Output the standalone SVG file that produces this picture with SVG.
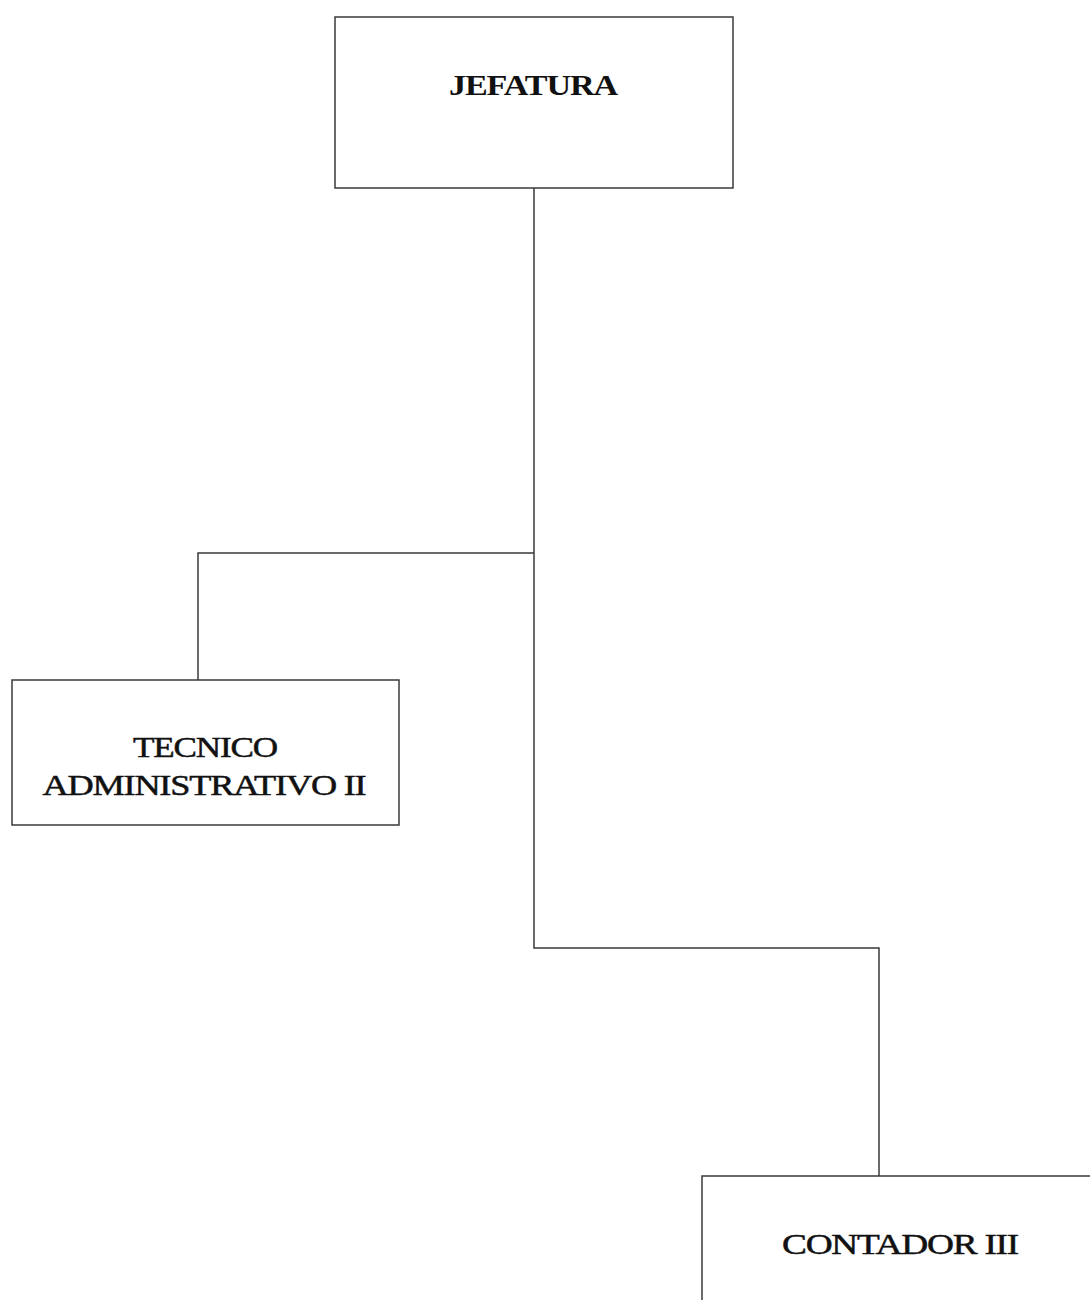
<svg xmlns="http://www.w3.org/2000/svg" width="1090" height="1300" viewBox="0 0 1090 1300">
  <style>
    .box { fill: #ffffff; stroke: #3a3a3a; stroke-width: 1.5; }
    .wire { fill: none; stroke: #3a3a3a; stroke-width: 1.5; }
    .label { font-family: "Liberation Serif", "Times New Roman", serif; font-size: 30px; fill: #111111; text-anchor: middle; stroke: #111111; stroke-width: 0.5; letter-spacing: -1px; }
    .strong { font-weight: bold; stroke-width: 0; }
  </style>
  <rect width="1090" height="1300" fill="#ffffff"/>

  <!-- org chart connectors -->
  <g id="connectors">
    <path class="wire" d="M534 188 V948 H879 V1176"/>
    <path class="wire" d="M534 553 H198 V680"/>
  </g>

  <g id="jefatura">
    <rect class="box" x="335" y="17" width="398" height="171"/>
    <text class="label strong" x="533" y="95" textLength="168" lengthAdjust="spacingAndGlyphs">JEFATURA</text>
  </g>

  <g id="tecnico-administrativo">
    <rect class="box" x="12" y="680" width="387" height="145"/>
    <text class="label" x="205" y="757" textLength="144" lengthAdjust="spacingAndGlyphs">TECNICO</text>
    <text class="label" x="204" y="795" textLength="323" lengthAdjust="spacingAndGlyphs">ADMINISTRATIVO  II</text>
  </g>

  <g id="contador">
    <rect class="box" x="702" y="1176" width="400" height="140"/>
    <text class="label" x="900" y="1254" textLength="236" lengthAdjust="spacingAndGlyphs">CONTADOR  III</text>
  </g>
</svg>
